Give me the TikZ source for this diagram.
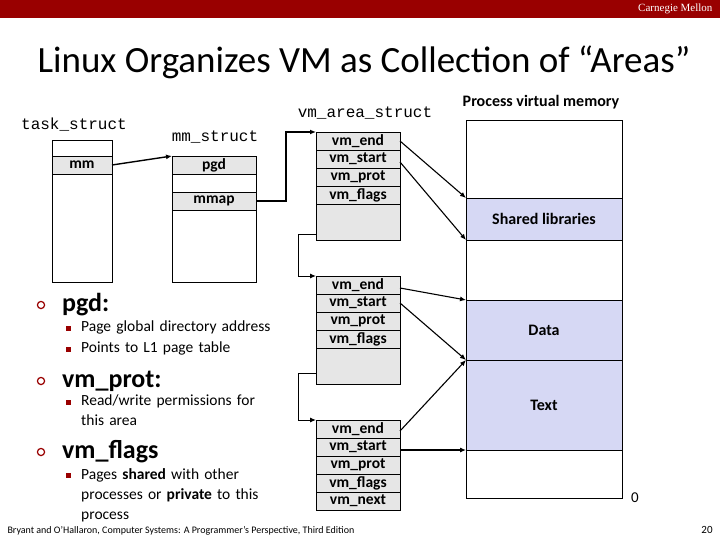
\documentclass[tikz,border=0pt]{standalone}
\usepackage{fontspec}
\setmainfont{Carlito}
\newfontfamily\monof{Liberation Mono}
\newfontfamily\serff{Liberation Serif}
\usetikzlibrary{arrows.meta}
\definecolor{cmred}{RGB}{153,0,0}
\definecolor{cellgray}{RGB}{230,230,230}
\definecolor{areablue}{RGB}{214,216,244}
\begin{document}
\begin{tikzpicture}[x=1pt,y=-1pt,
  cell/.style={draw,fill=cellgray,line width=0.6pt},
  plain/.style={draw,line width=0.6pt},
  celltxt/.style={font=\fontsize{15.5}{15.5}\selectfont\bfseries},
  mono/.style={font=\monof\fontsize{16}{16}\selectfont},
  conn/.style={line width=1.4pt,-{Latex[length=6pt,width=5pt]}},
  thin/.style={line width=0.6pt},
  blt/.style={anchor=west,inner sep=0pt,font=\fontsize{26}{26}\selectfont\bfseries},
  sub/.style={anchor=north west,font=\fontsize{15.5}{20}\selectfont,align=left,text width=230pt,inner sep=0pt}]
\useasboundingbox (0,0) rectangle (720,540);
\fill[cmred] (0,0) rectangle (720,18);
\node[anchor=east,text=white,font=\serff\fontsize{11}{11}\selectfont] (cmu) at (716,9) {Carnegie Mellon};
\node[font=\fontsize{37}{37}\selectfont] (title) at (364,62) {Linux Organizes VM as Collection of “Areas”};
% task_struct
\node[mono] (tslab) at (74,125) {task\_struct};
\draw[plain] (52,140) rectangle (112,282);
\draw[cell] (52,156) rectangle (112,174);
\node[celltxt] (mm) at (82,165) {mm};
\coordinate (mmR) at (112,165);
% mm_struct
\node[mono] (mslab) at (215,137) {mm\_struct};
\draw[plain] (172,156) rectangle (256,282);
\draw[cell] (172,156) rectangle (256,174);
\draw[cell] (172,192) rectangle (256,210);
\node[celltxt] (pgd) at (214,165) {pgd};
\node[celltxt] (mmap) at (214,201) {mmap};
\coordinate (msL) at (172,156);
\coordinate (mmapR) at (256,201);
\draw[conn] (mmR) -- (msL);
% vm_area_structs
\node[mono] (valab) at (365,113) {vm\_area\_struct};
\foreach \t/\n in {132/a,276/b}{
  \draw[cell] (316,\t) rectangle (400,\t+108);
  \foreach \k/\s in {0/vm\_end,1/vm\_start,2/vm\_prot,3/vm\_flags}{
    \draw[cell] (316,\t+18*\k) rectangle (400,\t+18*\k+18);
    \node[celltxt] at (358,\t+18*\k+9) {\s};
  }
}
\foreach \k/\s in {0/vm\_end,1/vm\_start,2/vm\_prot,3/vm\_flags,4/vm\_next}{
  \draw[cell] (316,420+18*\k) rectangle (400,420+18*\k+18);
  \node[celltxt] at (358,420+18*\k+9) {\s};
}
\coordinate (aT) at (316,132);
\coordinate (bT) at (316,276);
\coordinate (cT) at (316,420);
\draw[conn] (mmapR) -- (286,201) |- (aT);
\draw[thin] (316,234) -- (298,234) -- (298,276);
\draw[conn,line width=1pt] (298,276) -- (bT);
\draw[thin] (316,373) -- (298,373) -- (298,420);
\draw[conn,line width=1pt] (298,420) -- (cT);
% process memory
\node[font=\fontsize{16}{16}\selectfont\bfseries] (pvm) at (541,102) {Process virtual memory};
\draw[fill=areablue,thin] (466,198) rectangle (622,240);
\draw[fill=areablue,thin] (466,300) rectangle (622,450);
\draw[thin] (466,360) -- (622,360);
\draw[thin] (466,120) rectangle (622,498);
\node[celltxt,font=\fontsize{16}{16}\selectfont\bfseries] (sl) at (544,219) {Shared libraries};
\node[celltxt,font=\fontsize{16}{16}\selectfont\bfseries] (data) at (544,330) {Data};
\node[celltxt,font=\fontsize{16}{16}\selectfont\bfseries] (text) at (544,405) {Text};
\node[font=\fontsize{15}{15}\selectfont] (zero) at (635,498) {0};
\draw[conn,line width=1.1pt] (400,141) -- (466,198);
\draw[conn,line width=1.1pt] (400,162) -- (466,240);
\draw[conn,line width=1.1pt] (400,288) -- (466,300);
\draw[conn,line width=1.1pt] (400,303) -- (466,360);
\draw[conn,line width=1.1pt] (400,431) -- (466,360);
\draw[conn,line width=1.1pt] (400,450) -- (466,450);
% bullets
\foreach \y/\s in {305/pgd:,381/vm\_prot:,452/vm\_flags}{
  \draw[cmred,line width=1.2pt] (41,\y) circle (3.6pt);
  \node[blt] at (62,\y) {\s};
}
\foreach \y in {330,351,404,477}{ \fill[cmred] (66,\y-4) rectangle (71,\y+1); }
\node[sub] (s1) at (81,321) {Page global directory address};
\node[sub] (s2) at (81,342) {Points to L1 page table};
\node[sub,text width=190pt] (s3) at (81,395) {Read/write permissions for\\this area};
\node[sub,text width=200pt] (s4) at (81,468) {Pages \textbf{shared} with other\\processes or \textbf{private} to this\\process};
\node[anchor=west,font=\fontsize{10}{10}\selectfont] (foot) at (4,531) {Bryant and O’Hallaron, Computer Systems: A Programmer’s Perspective, Third Edition};
\node[font=\fontsize{11}{11}\selectfont] (pg) at (707,530) {20};
\end{tikzpicture}
\end{document}
